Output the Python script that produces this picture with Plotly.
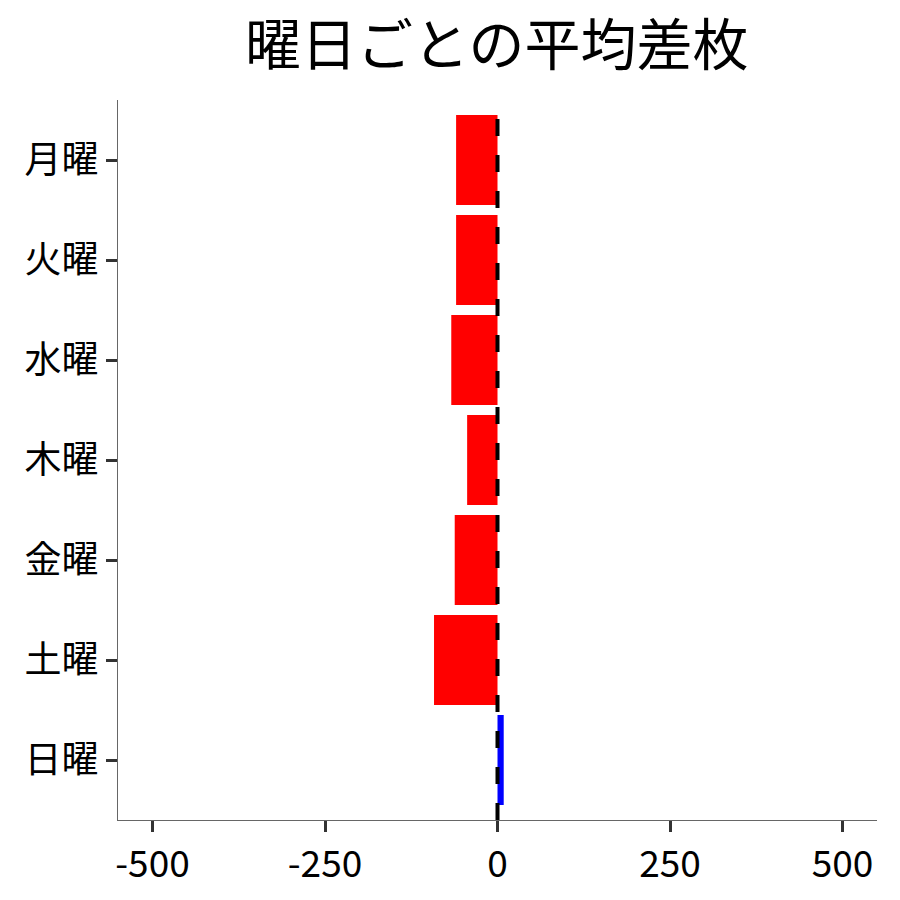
import plotly.graph_objects as go

days = ["月曜", "火曜", "水曜", "木曜", "金曜", "土曜", "日曜"]
avg_diff = [-60, -60, -67, -44, -62, -92, 9]
x_ticks = [-500, -250, 0, 250, 500]

colors = ["#0000FF" if v > 0 else "#FF0000" for v in avg_diff]

font = "Noto Sans CJK JP"

fig = go.Figure(
    go.Bar(
        x=avg_diff,
        y=days,
        orientation="h",
        width=0.9,
        marker=dict(color=colors, line=dict(width=0)),
    )
)

# zero reference line, drawn bottom to top
fig.add_shape(
    type="line",
    x0=0, x1=0, y0=0, y1=1,
    xref="x", yref="paper",
    line=dict(color="black", width=4, dash="17px,19px"),
)

fig.update_layout(
    width=900,
    height=900,
    margin=dict(l=110, r=31, t=92, b=88),
    paper_bgcolor="white",
    plot_bgcolor="white",
    font=dict(family=font, size=37, color="black"),
    title=dict(
        text="曜日ごとの平均差枚",
        font=dict(family=font, size=56, color="black"),
        x=0.543, xanchor="center", y=0.958, yanchor="middle",
    ),
    showlegend=False,
    bargap=0.1,
)
fig.update_xaxes(
    range=[-550, 550],
    tickvals=x_ticks,
    ticktext=[str(t) for t in x_ticks],
    showgrid=False,
    zeroline=False,
    showline=True,
    linecolor="#666666",
    linewidth=1.3,
    ticks="outside",
    ticklen=11,
    tickwidth=3,
    tickcolor="#333333",
)
fig.update_yaxes(
    categoryorder="array",
    categoryarray=days,
    range=[6.6, -0.6],
    showgrid=False,
    zeroline=False,
    showline=True,
    linecolor="#666666",
    linewidth=1.3,
    ticks="outside",
    ticklen=11,
    tickwidth=3,
    tickcolor="#333333",
)

fig.write_html("out.html")
